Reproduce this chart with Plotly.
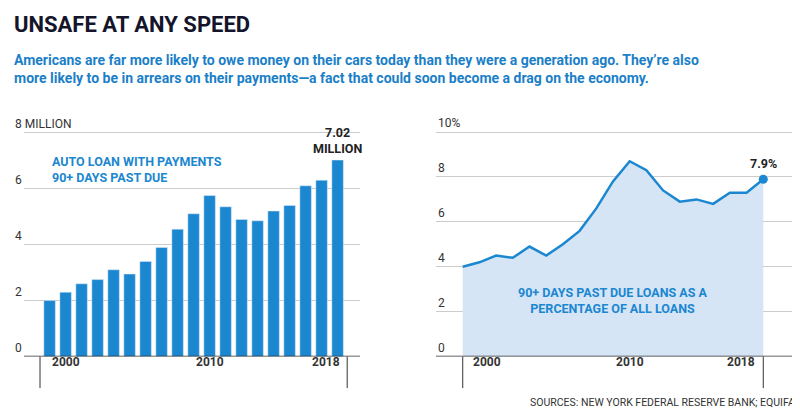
import plotly.graph_objects as go

years = list(range(2000, 2019))
loans_millions = [2.0, 2.3, 2.6, 2.75, 3.1, 2.95, 3.4, 3.9, 4.55, 5.1, 5.75, 5.35, 4.9, 4.85, 5.2, 5.4, 6.1, 6.3, 7.02]
pct_past_due = [4.0, 4.2, 4.5, 4.4, 4.9, 4.5, 5.0, 5.6, 6.6, 7.8, 8.7, 8.3, 7.4, 6.9, 7.0, 6.8, 7.3, 7.3, 7.9]
left_ticks = ["0", "2", "4", "6", "8 MILLION"]
right_ticks = ["0", "2", "4", "6", "8", "10%"]

F = "Roboto, Arial, sans-serif"
BLUE = "#1b87d0"
fig = go.Figure()
fig.add_bar(x=years, y=loans_millions, marker_color=BLUE, width=0.72, xaxis="x", yaxis="y")
fig.add_scatter(x=years, y=pct_past_due, mode="lines", line=dict(color=BLUE, width=2.5),
                fill="tozeroy", fillcolor="#d5e5f6", xaxis="x2", yaxis="y2")
fig.add_scatter(x=[years[-1]], y=[pct_past_due[-1]], mode="markers", marker=dict(color=BLUE, size=9),
                xaxis="x2", yaxis="y2")

ax = dict(showgrid=False, zeroline=False, showticklabels=False, showline=False, fixedrange=True)
YD = [0.17, 0.71]
fig.update_layout(
    width=800, height=420, showlegend=False, plot_bgcolor="white", paper_bgcolor="white",
    margin=dict(l=0, r=0, t=0, b=0), font=dict(family=F, color="#222"),
    xaxis=dict(ax, domain=[0.02, 0.44], range=[1998.4, 2019.4]),
    yaxis=dict(ax, domain=YD, range=[0, 8.1], showgrid=True, gridcolor="#cccccc",
               tickvals=[0, 2, 4, 6, 8]),
    xaxis2=dict(ax, domain=[0.535, 0.99], range=[1998.4, 2020.2]),
    yaxis2=dict(ax, domain=YD, range=[0, 10.1], showgrid=True, gridcolor="#cccccc",
                tickvals=[0, 2, 4, 6, 8, 10]),
)
for i, t in enumerate(left_ticks):
    fig.add_annotation(x=0.006, xref="paper", y=i * 2, yref="y", text=t, showarrow=False,
                       xanchor="left", yanchor="bottom", font=dict(size=12, color="#333"))
for i, t in enumerate(right_ticks):
    fig.add_annotation(x=0.535, xref="paper", y=i * 2, yref="y2", text=t, showarrow=False,
                       xanchor="left", yanchor="bottom", font=dict(size=12, color="#333"))
for xr, yr, x0, x1 in [("x", "y", 1998.4, 2019.4), ("x2", "y2", 1998.4, 2020.2)]:
    fig.add_shape(type="line", xref=xr, yref=yr, x0=x0, x1=x1, y0=0, y1=0, line=dict(color="#333", width=1.5))
for xr, xs in [("x", [1999.4, 2018.6]), ("x2", [2000, 2018])]:
    for xv in xs:
        fig.add_shape(type="line", xref=xr, yref="paper", x0=xv, x1=xv, y0=0.17, y1=0.095,
                      line=dict(color="#333", width=1))
for xr, xv, lab, anc in [("x", 2000, "2000", "left"), ("x", 2010, "2010", "center"), ("x", 2018.3, "2018", "right"),
                         ("x2", 2000.5, "2000", "left"), ("x2", 2010, "2010", "center"), ("x2", 2017.6, "2018", "right")]:
    fig.add_annotation(x=xv, xref=xr, y=0.135, yref="paper", text=f"<b>{lab}</b>",
                       showarrow=False, xanchor=anc, font=dict(size=12, color="#333"))

fig.add_annotation(x=0.005, xref="paper", y=0.995, yref="paper", text="<b>UNSAFE AT ANY SPEED</b>",
                   showarrow=False, xanchor="left", yanchor="top", font=dict(size=22, color="#14142b"))
fig.add_annotation(x=0.005, xref="paper", y=0.9, yref="paper", align="left",
                   text="<b>Americans are far more likely to owe money on their cars today than they were a generation ago. They’re also<br>more likely to be in arrears on their payments—a fact that could soon become a drag on the economy.</b>",
                   showarrow=False, xanchor="left", yanchor="top", font=dict(size=14, color="#1b7fc8"))
fig.add_annotation(x=2000, xref="x", y=7.3, yref="y", align="left",
                   text="<b>AUTO LOAN WITH PAYMENTS<br>90+ DAYS PAST DUE</b>", showarrow=False,
                   xanchor="left", yanchor="top", font=dict(size=12.5, color=BLUE))
fig.add_annotation(x=2018, xref="x", y=7.1, yref="y", text="<b>7.02<br>MILLION</b>", showarrow=False,
                   yanchor="bottom", font=dict(size=12.5, color="#222"))
fig.add_annotation(x=2018, xref="x2", y=7.9, yref="y2", text="<b>7.9%</b>", showarrow=False,
                   yanchor="bottom", yshift=6, font=dict(size=12.5, color="#222"))
fig.add_annotation(x=2009, xref="x2", y=2.5, yref="y2",
                   text="<b>90+ DAYS PAST DUE LOANS AS A<br>PERCENTAGE OF ALL LOANS</b>", showarrow=False,
                   font=dict(size=12.5, color=BLUE))
fig.add_annotation(x=0.995, xref="paper", y=0.04, yref="paper",
                   text="SOURCES: NEW YORK FEDERAL RESERVE BANK; EQUIFAX", showarrow=False,
                   xanchor="right", yanchor="bottom", font=dict(size=10.5, color="#333"))
fig.write_html("out.html")
